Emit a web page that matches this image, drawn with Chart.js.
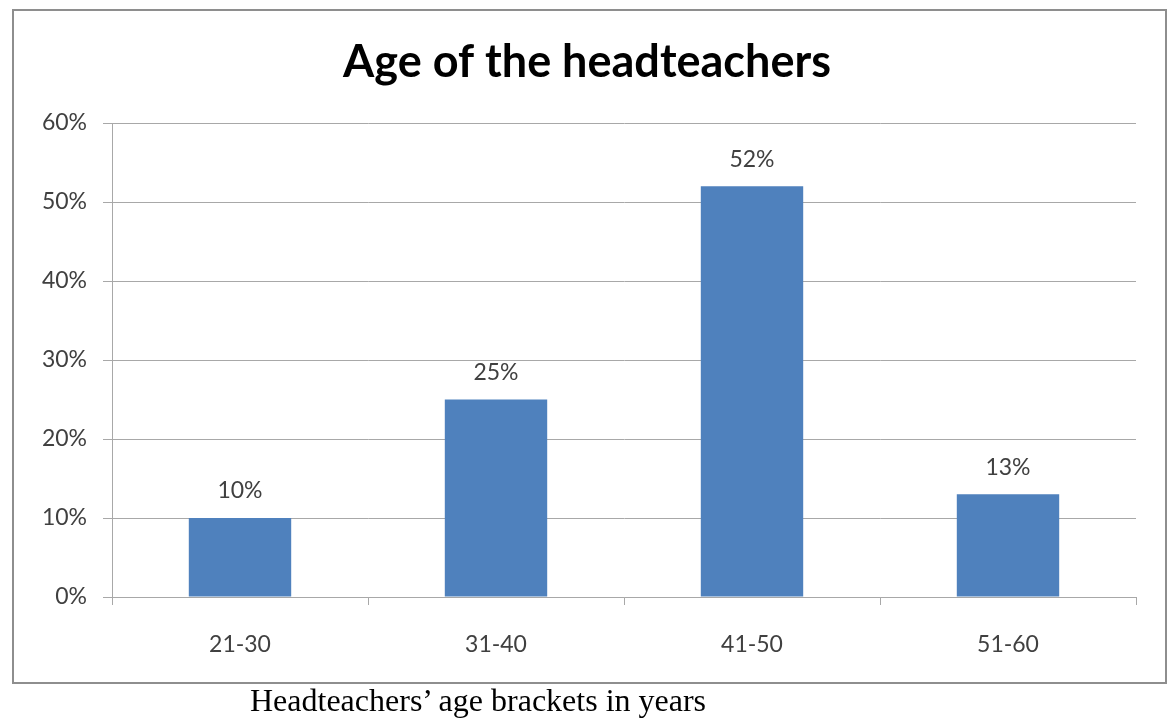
<!DOCTYPE html>
<html>
<head>
<meta charset="utf-8">
<script src="https://cdn.jsdelivr.net/npm/chart.js@4/dist/chart.umd.min.js"></script>
<style>
  body { margin: 0; background: #fff; }
  #wrap { position: relative; width: 1168px; height: 720px; }
  #frame {
    position: absolute; left: 12px; top: 9px; width: 1151px; height: 671px;
    border: 2px solid #8e8e8e; pointer-events: none;
  }
  #caption {
    position: absolute; left: 250px; top: 682px; line-height: 36px;
    font-family: "Liberation Serif", "Times New Roman", serif;
    font-size: 32px; color: #000; white-space: nowrap;
  }
</style>
</head>
<body>
<div id="wrap">
  <canvas id="canvas" width="1168" height="720"></canvas>
  <div id="frame"></div>
  <div id="caption">Headteachers’ age brackets in years</div>
</div>
<script>
var chartTitle = 'Age of the headteachers';
var ageBrackets = ['21-30', '31-40', '41-50', '51-60'];
var headteacherShare = [10, 25, 52, 13];
var yTicks = [0, 10, 20, 30, 40, 50, 60];

var labelFont = { family: 'Lato, "Open Sans", sans-serif', size: 23 };
var textColor = '#404040';
var gridColor = '#a8a8a8';

// draws the value above each bar
var barValues = {
    id: 'barValues',
    afterDatasetsDraw: function(chart) {
        var ctx = chart.ctx;
        var meta = chart.getDatasetMeta(0);
        ctx.save();
        ctx.font = labelFont.size + 'px ' + labelFont.family;
        ctx.fillStyle = textColor;
        ctx.textAlign = 'center';
        ctx.textBaseline = 'middle';
        meta.data.forEach(function(bar, i) {
            ctx.fillText(headteacherShare[i] + '%', bar.x, bar.y - 27);
        });
        ctx.restore();
    }
};

var ctx = document.getElementById('canvas').getContext('2d');
var myBarChart = new Chart(ctx, {
    type: 'bar',
    data: {
        labels: ageBrackets,
        datasets: [{
            data: headteacherShare,
            backgroundColor: '#4f81bd',
            borderWidth: 0,
            barPercentage: 0.4,
            categoryPercentage: 1
        }]
    },
    options: {
        responsive: false,
        animation: false,
        layout: { padding: { left: 38, right: 32, top: 0, bottom: 65 } },
        plugins: {
            legend: { display: false },
            tooltip: { enabled: false },
            title: {
                display: true,
                text: chartTitle,
                color: '#000',
                font: { family: 'Lato, "Open Sans", sans-serif', size: 45, weight: 'bold', lineHeight: 1.2 },
                padding: { top: 35, bottom: 34 }
            }
        },
        scales: {
            x: {
                offset: true,
                grid: { offset: true, drawOnChartArea: false, drawTicks: true, tickLength: 8, color: gridColor },
                border: { display: true, color: gridColor },
                ticks: { color: textColor, font: labelFont, padding: 26 },
                afterFit: function(s) { s.height = 58; }
            },
            y: {
                min: 0,
                max: 60,
                afterBuildTicks: function(s) {
                    s.ticks = yTicks.map(function(v) { return { value: v }; });
                },
                grid: { color: gridColor, tickLength: 9 },
                border: { display: true, color: gridColor },
                ticks: {
                    color: textColor, font: labelFont, padding: 16,
                    callback: function(v) { return v + '%'; }
                },
                afterFit: function(s) { s.width = 74; }
            }
        }
    },
    plugins: [barValues]
});
</script>
</body>
</html>
